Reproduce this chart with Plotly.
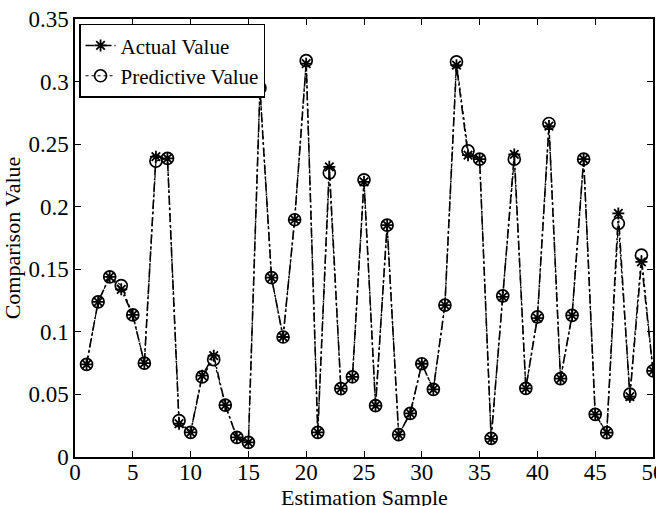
import plotly.graph_objects as go

samples = list(range(1, 51))
actual = [0.074, 0.124, 0.144, 0.134, 0.1135, 0.075, 0.240, 0.2386, 0.0266, 0.0197,
          0.065, 0.081, 0.0415, 0.0157, 0.0117, 0.294, 0.1433, 0.0959, 0.1896, 0.3143,
          0.0197, 0.2319, 0.0546, 0.0641, 0.2199, 0.041, 0.1853, 0.0178, 0.0349, 0.0745,
          0.0541, 0.1214, 0.3131, 0.2412, 0.238, 0.0145, 0.128, 0.2418, 0.0549, 0.111,
          0.2644, 0.0626, 0.1132, 0.238, 0.0341, 0.0194, 0.1946, 0.0482, 0.156, 0.0689]
predicted = [0.074, 0.124, 0.144, 0.137, 0.1135, 0.075, 0.2365, 0.2386, 0.029, 0.0197,
             0.064, 0.0778, 0.0415, 0.0157, 0.0117, 0.2949, 0.1433, 0.0959, 0.1896, 0.3167,
             0.0197, 0.2271, 0.0546, 0.0641, 0.2215, 0.041, 0.1853, 0.0178, 0.0349, 0.0745,
             0.0541, 0.1214, 0.3158, 0.2447, 0.238, 0.0149, 0.1288, 0.238, 0.0549, 0.112,
             0.2665, 0.0626, 0.1132, 0.238, 0.0341, 0.0194, 0.1866, 0.0503, 0.1613, 0.0689]

xticks = [0, 5, 10, 15, 20, 25, 30, 35, 40, 45, 50]
yticks = [0, 0.05, 0.1, 0.15, 0.2, 0.25, 0.3, 0.35]
ytick_labels = ["0", "0.05", "0.1", "0.15", "0.2", "0.25", "0.3", "0.35"]
x_title = "Estimation Sample"
y_title = "Comparison Value"

FONT = "Liberation Serif"

fig = go.Figure()
fig.add_trace(go.Scatter(
    x=samples, y=actual, name="Actual Value", mode="lines+markers",
    line=dict(color="black", width=1.6, dash="9px,3px,2px,3px"),
    marker=dict(symbol="asterisk-open", size=10, color="black",
                line=dict(color="black", width=1.8)),
))
fig.add_trace(go.Scatter(
    x=samples, y=predicted, name="Predictive Value", mode="lines+markers",
    line=dict(color="black", width=1.2, dash="dot"),
    marker=dict(symbol="circle-open", size=12, color="black",
                line=dict(color="black", width=1.7)),
))

axis_common = dict(
    showgrid=False, zeroline=False, showline=True, linecolor="black", linewidth=1.5,
    mirror="ticks", ticks="inside", ticklen=6, tickwidth=1.2, tickcolor="black",
    tickfont=dict(family=FONT, size=23, color="black"), automargin=False,
)

fig.update_layout(
    width=656, height=506,
    margin=dict(l=75, r=3, t=19, b=49),
    paper_bgcolor="white", plot_bgcolor="white",
    font=dict(family=FONT, color="black"),
    showlegend=True,
    legend=dict(
        x=0.007, y=0.989, xanchor="left", yanchor="top",
        bgcolor="white", bordercolor="black", borderwidth=1.5,
        font=dict(family=FONT, size=21, color="black"),
        tracegroupgap=0, itemwidth=30,
    ),
    xaxis=dict(range=[0, 50], tickvals=xticks, ticklabeloverflow="allow",
               ticklabelstandoff=-6, **axis_common),
    yaxis=dict(range=[0, 0.35], tickvals=yticks, ticktext=ytick_labels,
               title=dict(text=y_title, font=dict(family=FONT, size=22)),
               **axis_common),
    annotations=[dict(
        text=x_title, xref="paper", yref="paper", x=0.5, y=-0.092,
        xanchor="center", yanchor="middle", showarrow=False,
        font=dict(family=FONT, size=22, color="black"),
    )],
)

fig.write_html("out.html")
